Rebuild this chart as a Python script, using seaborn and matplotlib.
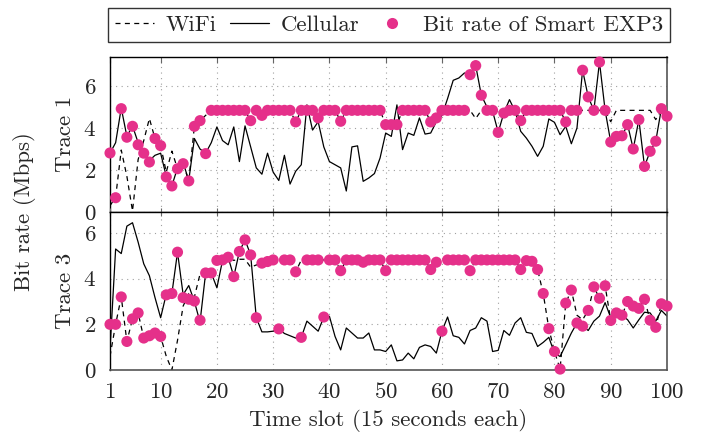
import numpy as np
import matplotlib
matplotlib.use('Agg')
import matplotlib.pyplot as plt
from matplotlib.lines import Line2D
import seaborn as sns

# ── Data ─────────────────────────────────────────────────────────
slots = np.arange(1, 101)

# Trace 1
wifi_t1 = [0.3, 0.7, 2.95, 1.7, 0.05, 2.5, 3.4, 4.45, 3.5, 3.16,
           1.9, 2.9, 2.06, 2.3, 1.48, 4.08, 4.35, 4.6, 4.84, 4.84,
           4.84, 4.84, 4.84, 4.84, 4.84, 4.35, 4.84, 4.6, 4.84, 4.84,
           4.84, 4.84, 4.84, 4.29, 4.84, 4.84, 4.84, 4.48, 4.84, 4.84,
           4.84, 4.32, 4.84, 4.84, 4.84, 4.84, 4.84, 4.84, 4.84, 4.16,
           4.16, 4.16, 4.84, 4.84, 4.84, 4.84, 4.84, 4.29, 4.48, 4.84,
           4.84, 4.84, 4.84, 4.84, 4.84, 4.45, 4.84, 4.84, 4.84, 4.84,
           4.84, 4.84, 4.84, 4.35, 4.84, 4.84, 4.84, 4.84, 4.84, 4.84,
           4.84, 4.29, 4.84, 4.84, 4.84, 4.84, 4.84, 4.84, 4.84, 4.3,
           4.84, 4.84, 4.84, 4.84, 4.84, 4.84, 4.84, 4.4, 4.84, 4.5]
cell_t1 = [2.8, 3.3, 4.95, 3.6, 4.1, 3.3, 2.85, 2.45, 2.7, 2.8,
           1.7, 1.25, 2.1, 2.35, 1.5, 3.5, 3.0, 2.8, 3.3, 4.05,
           3.4, 3.2, 4.05, 2.4, 4.1, 3.1, 2.1, 1.8, 2.8, 1.9,
           1.5, 2.7, 1.33, 1.94, 2.25, 5.1, 3.9, 4.3, 3.1, 2.4,
           2.25, 2.1, 1.0, 3.1, 3.15, 1.46, 1.62, 1.83, 2.57, 3.76,
           3.6, 5.1, 2.97, 3.76, 3.65, 4.48, 3.71, 3.76, 4.3, 4.6,
           5.4, 6.27, 6.38, 6.62, 6.54, 6.97, 5.56, 5.0, 4.8, 3.8,
           4.71, 5.35, 4.8, 3.84, 3.52, 3.13, 2.65, 3.13, 4.43, 4.27,
           3.68, 4.08, 3.25, 4.0, 6.75, 5.48, 4.84, 7.14, 4.84, 3.33,
           3.6, 3.63, 4.16, 3.0, 4.4, 2.17, 2.89, 3.37, 4.92, 4.56]
rate_t1 = [2.81, 0.68, 4.92, 3.56, 4.08, 3.2, 2.8, 2.38, 3.5, 3.16,
           1.67, 1.24, 2.06, 2.3, 1.48, 4.08, 4.35, 2.78, 4.84, 4.84,
           4.84, 4.84, 4.84, 4.84, 4.84, 4.35, 4.84, 4.6, 4.84, 4.84,
           4.84, 4.84, 4.84, 4.29, 4.84, 4.84, 4.84, 4.48, 4.84, 4.84,
           4.84, 4.32, 4.84, 4.84, 4.84, 4.84, 4.84, 4.84, 4.84, 4.16,
           4.16, 4.16, 4.84, 4.84, 4.84, 4.84, 4.84, 4.29, 4.48, 4.84,
           4.84, 4.84, 4.84, 4.84, 6.54, 6.97, 5.56, 4.84, 4.84, 3.79,
           4.71, 4.84, 4.84, 4.35, 4.84, 4.84, 4.84, 4.84, 4.84, 4.84,
           4.84, 4.29, 4.84, 4.84, 6.75, 5.48, 4.84, 7.14, 4.84, 3.33,
           3.6, 3.63, 4.16, 3.0, 4.4, 2.17, 2.89, 3.37, 4.92, 4.56]

# Trace 3
wifi_t3 = [0.6, 2.0, 3.2, 1.25, 2.24, 2.5, 1.4, 1.5, 1.62, 1.47,
           0.6, 0.0, 1.3, 2.8, 3.35, 3.2, 4.2, 4.25, 4.25, 4.8,
           4.82, 4.94, 4.8, 4.85, 4.85, 4.5, 4.6, 4.68, 4.75, 4.82,
           4.82, 4.82, 4.82, 4.3, 4.82, 4.82, 4.82, 4.82, 4.82, 4.82,
           4.82, 4.35, 4.82, 4.82, 4.82, 4.72, 4.82, 4.82, 4.82, 4.35,
           4.82, 4.82, 4.82, 4.82, 4.82, 4.82, 4.82, 4.4, 4.72, 4.82,
           4.82, 4.82, 4.82, 4.82, 4.35, 4.82, 4.82, 4.82, 4.82, 4.82,
           4.82, 4.82, 4.82, 4.4, 4.79, 4.76, 4.4, 3.35, 1.81, 0.81,
           0.04, 2.93, 3.5, 2.4, 2.2, 2.61, 3.64, 3.14, 3.69, 2.17,
           2.5, 2.4, 3.0, 2.8, 2.7, 3.1, 2.18, 1.87, 2.9, 2.8]
cell_t3 = [0.9, 5.3, 5.1, 6.3, 6.45, 5.6, 4.65, 4.13, 3.17, 2.29,
           3.32, 3.35, 5.16, 3.3, 3.7, 3.0, 2.1, 4.25, 4.25, 3.6,
           4.8, 4.94, 4.09, 5.19, 5.7, 5.04, 2.29, 1.67, 1.67, 1.7,
           1.8, 1.6, 1.5, 1.4, 1.43, 2.14, 1.92, 1.7, 2.32, 2.35,
           1.47, 0.88, 1.84, 1.62, 1.4, 1.4, 1.62, 0.88, 0.88, 0.81,
           1.1, 0.4, 0.44, 0.74, 0.49, 0.99, 1.1, 1.03, 0.74, 1.7,
           2.32, 1.5, 1.43, 1.14, 1.73, 1.84, 2.29, 2.14, 0.81, 0.86,
           1.73, 1.52, 2.06, 2.29, 1.65, 1.6, 1.03, 1.21, 1.43, 0.74,
           0.59, 1.1, 1.62, 2.06, 1.92, 1.73, 2.14, 2.36, 2.95, 2.29,
           2.5, 2.4, 2.2, 1.84, 2.2, 2.53, 2.5, 2.14, 2.61, 2.36]
rate_t3 = [2.0, 2.0, 3.2, 1.25, 2.24, 2.5, 1.4, 1.5, 1.62, 1.47,
           3.29, 3.35, 5.16, 3.17, 3.1, 3.02, 2.18, 4.25, 4.25, 4.8,
           4.82, 4.94, 4.09, 5.19, 5.7, 5.04, 2.29, 4.68, 4.75, 4.82,
           1.8, 4.82, 4.82, 4.3, 1.43, 4.82, 4.82, 4.82, 2.32, 4.82,
           4.82, 4.35, 4.82, 4.82, 4.82, 4.72, 4.82, 4.82, 4.82, 4.35,
           4.82, 4.82, 4.82, 4.82, 4.82, 4.82, 4.82, 4.4, 4.72, 1.7,
           4.82, 4.82, 4.82, 4.82, 4.35, 4.82, 4.82, 4.82, 4.82, 4.82,
           4.82, 4.82, 4.82, 4.4, 4.79, 4.76, 4.4, 3.35, 1.81, 0.81,
           0.04, 2.93, 3.5, 2.06, 1.92, 2.61, 3.64, 3.14, 3.69, 2.17,
           2.5, 2.4, 3.0, 2.8, 2.7, 3.1, 2.18, 1.87, 2.9, 2.8]

x_ticks = [1, 10, 20, 30, 40, 50, 60, 70, 80, 90, 100]
y_ticks = [0, 2, 4, 6]

# ── Style ────────────────────────────────────────────────────────
sns.set_style('white')
plt.rcParams['font.family'] = ['cmr10', 'DejaVu Serif']
plt.rcParams['mathtext.fontset'] = 'cm'
plt.rcParams['axes.formatter.use_mathtext'] = True
MAGENTA = '#E5308A'
FS = 16.5

W, H = 704, 442
fig = plt.figure(figsize=(W / 100, H / 100), dpi=100)
ax1 = fig.add_axes([110 / W, 1 - 212 / H, 557 / W, 155 / H])
ax2 = fig.add_axes([110 / W, 1 - 370 / H, 557 / W, 158 / H])

panels = [(ax1, wifi_t1, cell_t1, rate_t1, 7.38),
          (ax2, wifi_t3, cell_t3, rate_t3, 6.92)]

for ax, wifi, cell, rate, ytop in panels:
    ax.grid(True, color='#a0a0a0', linestyle=(0, (1, 4)), linewidth=0.8)
    sns.lineplot(x=slots, y=wifi, ax=ax, color='black', linewidth=0.9,
                 linestyle=(0, (4, 3.5)), zorder=2)
    sns.lineplot(x=slots, y=cell, ax=ax, color='black', linewidth=0.9,
                 zorder=2)
    sns.scatterplot(x=slots, y=rate, ax=ax, color=MAGENTA, s=64,
                    edgecolor='none', zorder=3, clip_on=False)
    ax.set_xlim(1, 100)
    ax.set_ylim(0, ytop)
    ax.set_xticks(x_ticks)
    ax.set_yticks(y_ticks)
    ax.set_xlabel('')
    ax.set_ylabel('')
    ax.tick_params(axis='y', direction='out', length=7, color='#888888',
                   labelsize=FS, pad=3)
    ax.tick_params(axis='x', direction='in', length=4, color='#666666',
                   top=True, labelsize=FS)
    for side in ['left', 'top', 'bottom']:
        ax.spines[side].set_color('black')
        ax.spines[side].set_linewidth(1.0)
    ax.spines['right'].set_color('#555555')
    ax.spines['right'].set_linewidth(1.2)

ax1.tick_params(axis='x', labelbottom=False)
ax2.tick_params(axis='x', direction='inout', length=6, pad=6)
ax2.spines['bottom'].set_color('#555555')
ax2.spines['bottom'].set_linewidth(1.2)
ax2.set_xlabel('Time slot (15 seconds each)', fontsize=FS, labelpad=5)

fig.text(65 / W, 1 - 134 / H, 'Trace 1', rotation=90, fontsize=FS,
         ha='center', va='center')
fig.text(65 / W, 1 - 291 / H, 'Trace 3', rotation=90, fontsize=FS,
         ha='center', va='center')
fig.text(25 / W, 1 - 212 / H, 'Bit rate (Mbps)', rotation=90, fontsize=FS,
         ha='center', va='center')

handles = [
    Line2D([], [], color='black', linewidth=0.9, linestyle=(0, (4, 3.5))),
    Line2D([], [], color='black', linewidth=0.9),
    Line2D([], [], color=MAGENTA, marker='o', linestyle='none',
           markersize=8, markeredgewidth=0),
]
labels = ['WiFi', 'Cellular', 'Bit rate of Smart EXP3']
leg = fig.legend(handles, labels, loc='center', ncol=3,
                 bbox_to_anchor=(389 / W, 1 - 25 / H), fontsize=FS,
                 frameon=True, fancybox=False, edgecolor='black',
                 handlelength=1.7, handletextpad=0.5, columnspacing=0.6,
                 borderpad=0.3, borderaxespad=0)
leg.get_frame().set_linewidth(1.0)

fig.savefig('out.png', dpi=100)
